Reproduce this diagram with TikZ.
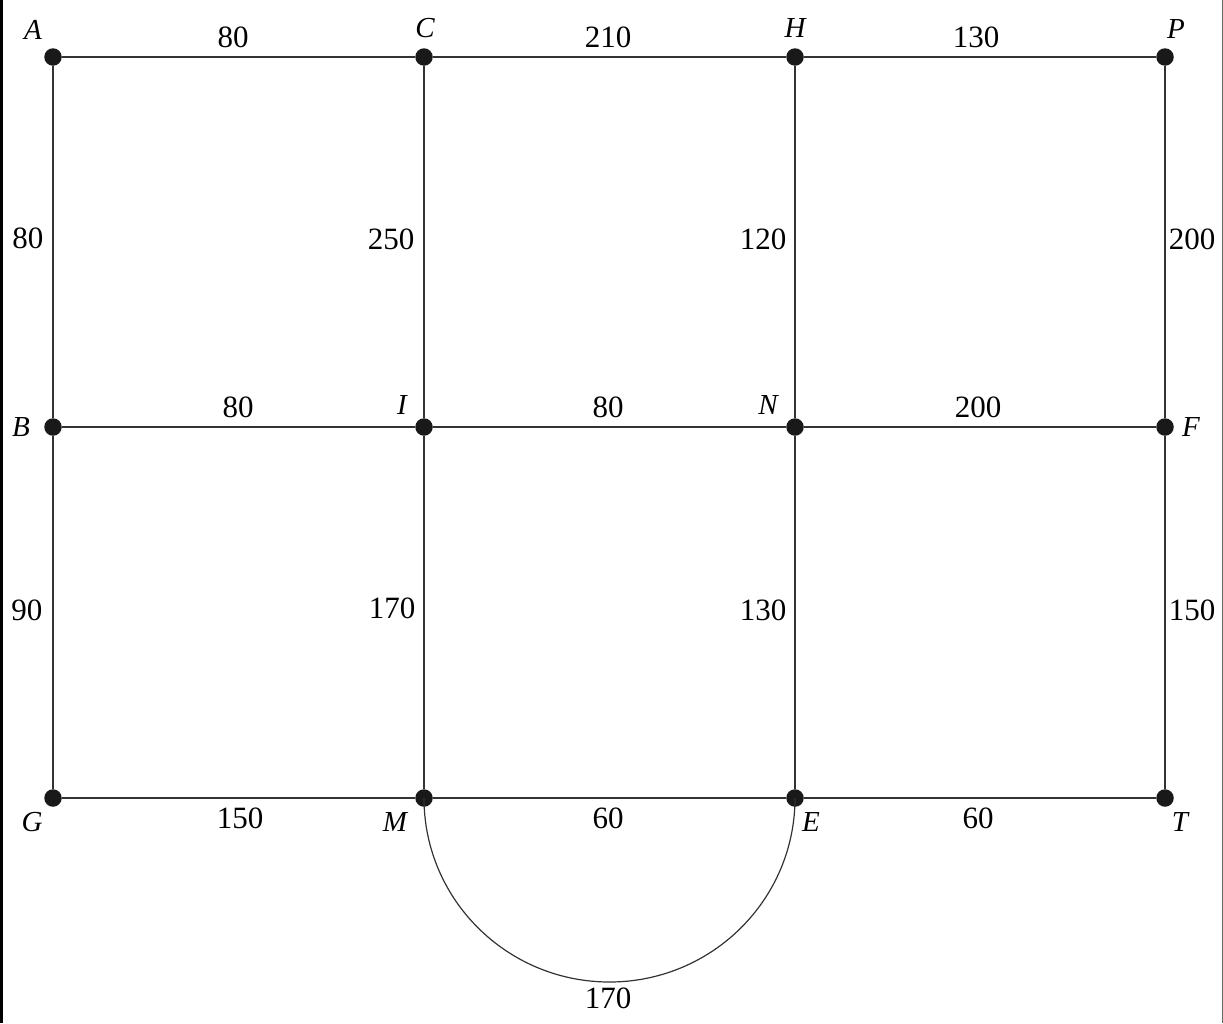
\documentclass[tikz,border=0pt]{standalone}
\usepackage{fontspec}
\setmainfont{Liberation Serif}
\begin{document}
\begin{tikzpicture}[x=1pt,y=-1pt,
  vtx/.style={circle,fill=black!90,inner sep=0pt,minimum size=17.5pt},
  edge/.style={line width=1.2pt,draw=black!80},
  num/.style={inner sep=0pt,font=\fontsize{31}{34}\selectfont},
  lab/.style={inner sep=0pt,font=\fontsize{29}{32}\selectfont\itshape}]
\useasboundingbox (0,0) rectangle (1223,1023);
\draw[line width=2.5pt] (1.25,0) -- (1.25,1023);
\draw[line width=1pt,black!60] (1222.5,0) -- (1222.5,1023);
% vertices
\node[vtx] (A) at (53,57) {};
\node[vtx] (C) at (424,57) {};
\node[vtx] (H) at (795,57) {};
\node[vtx] (P) at (1165,57) {};
\node[vtx] (B) at (53,427) {};
\node[vtx] (I) at (424,427) {};
\node[vtx] (N) at (795,427) {};
\node[vtx] (F) at (1165,427) {};
\node[vtx] (G) at (53,798) {};
\node[vtx] (M) at (424,798) {};
\node[vtx] (E) at (795,798) {};
\node[vtx] (T) at (1165,798) {};
% edges
\draw[edge] (A) -- (C);
\draw[edge] (C) -- (H);
\draw[edge] (H) -- (P);
\draw[edge] (B) -- (I);
\draw[edge] (I) -- (N);
\draw[edge] (N) -- (F);
\draw[edge] (G) -- (M);
\draw[edge] (M) -- (E);
\draw[edge] (E) -- (T);
\draw[edge] (A) -- (B);
\draw[edge] (B) -- (G);
\draw[edge] (C) -- (I);
\draw[edge] (I) -- (M);
\draw[edge] (H) -- (N);
\draw[edge] (N) -- (E);
\draw[edge] (P) -- (F);
\draw[edge] (F) -- (T);
\draw[edge] (M.center) arc[start angle=180,end angle=360,x radius=185.5,y radius=-184];
% vertex labels
\node[lab] (lA) at (33,30) {A};
\node[lab] (lC) at (425,28) {C};
\node[lab] (lH) at (795,28) {H};
\node[lab] (lP) at (1176,29) {P};
\node[lab] (lB) at (21,427) {B};
\node[lab] (lI) at (402,405) {I};
\node[lab] (lN) at (768,405) {N};
\node[lab] (lF) at (1191,427) {F};
\node[lab] (lG) at (32,822) {G};
\node[lab] (lM) at (395,822) {M};
\node[lab] (lE) at (811,822) {E};
\node[lab] (lT) at (1180,822) {T};
% weights
\node[num] (wAC) at (233,37) {80};
\node[num] (wCH) at (608,37) {210};
\node[num] (wHP) at (976,37) {130};
\node[num] (wBI) at (238,407) {80};
\node[num] (wIN) at (608,407) {80};
\node[num] (wNF) at (978,407) {200};
\node[num] (wGM) at (240,818) {150};
\node[num] (wME) at (608,818) {60};
\node[num] (wET) at (978,818) {60};
\node[num] (wAB) at (28,238) {80};
\node[num] (wCI) at (391,239) {250};
\node[num] (wHN) at (763,239) {120};
\node[num] (wPF) at (1192,239) {200};
\node[num] (wBG) at (27,610) {90};
\node[num] (wIM) at (392,608) {170};
\node[num] (wNE) at (763,610) {130};
\node[num] (wFT) at (1192,610) {150};
\node[num] (wArc) at (608,998) {170};
\end{tikzpicture}
\end{document}
